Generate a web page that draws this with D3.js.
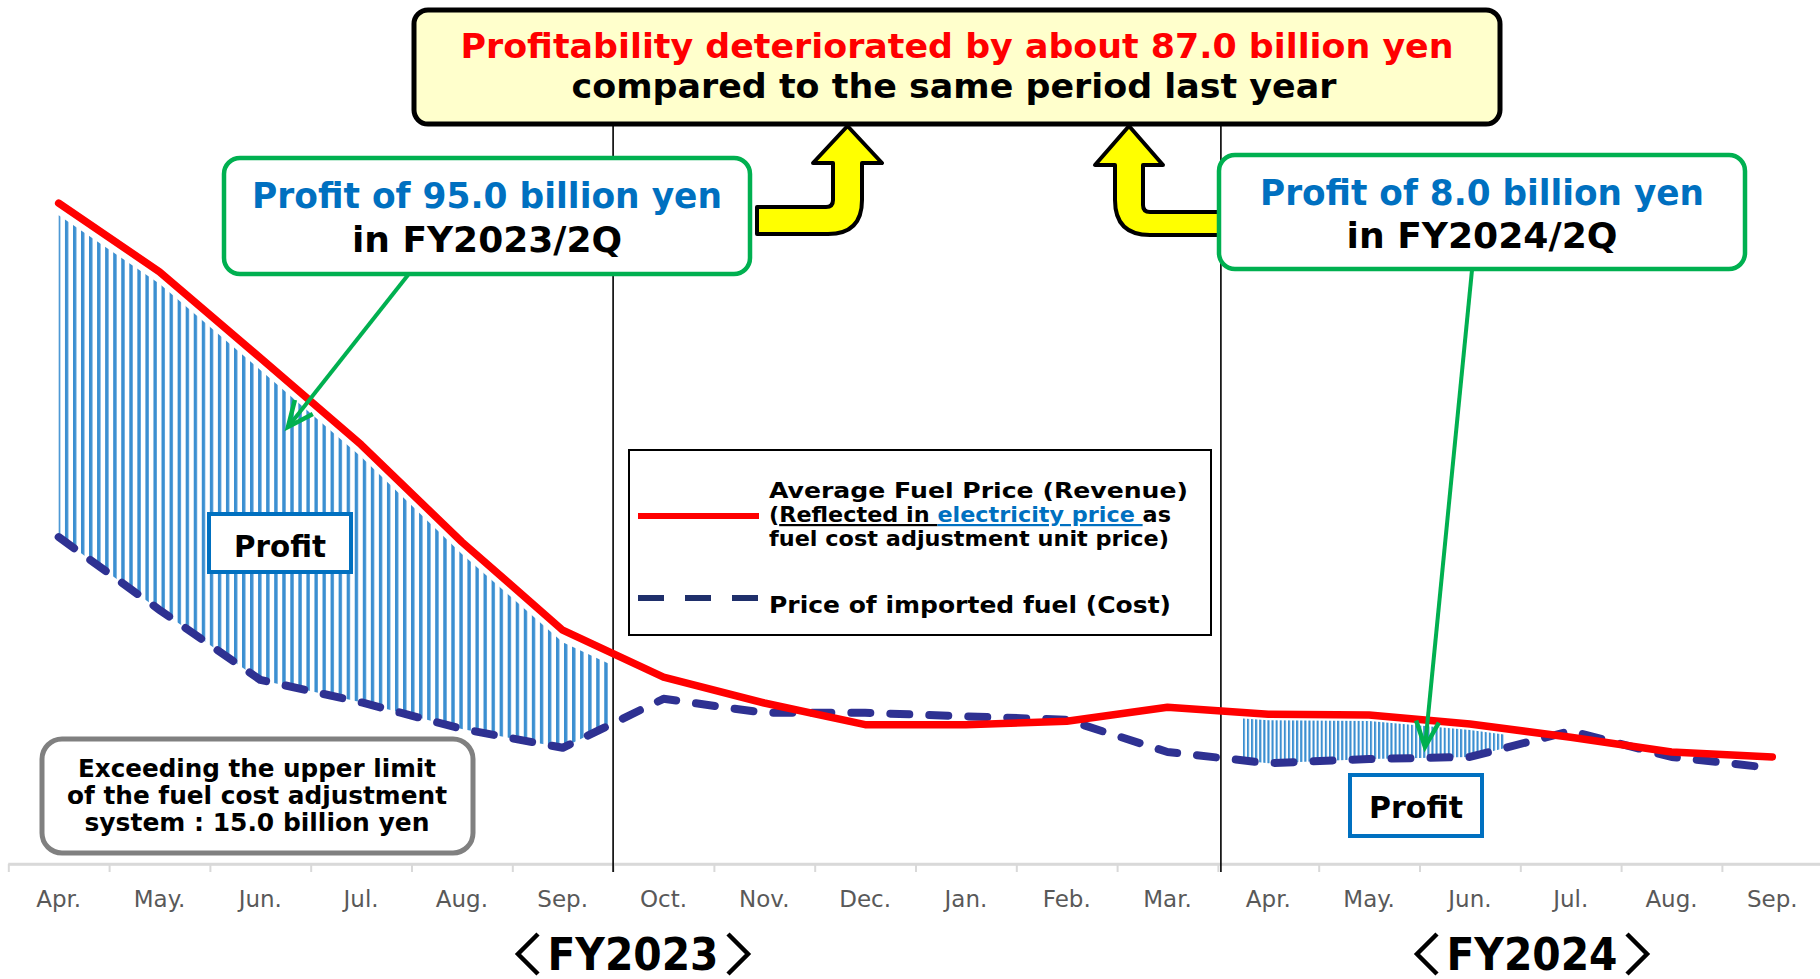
<!DOCTYPE html>
<html>
<head>
<meta charset="utf-8">
<script src="https://cdn.jsdelivr.net/npm/d3@7"></script>
<style>
  body { margin: 0; background: #fff; }
  svg { display: block; font-family: "DejaVu Sans", Verdana, sans-serif; }
</style>
</head>
<body>
<div id="vis"></div>
<script>
// months of FY2023 (Apr-Mar) + first half of FY2024
var months = ["Apr.","May.","Jun.","Jul.","Aug.","Sep.","Oct.","Nov.","Dec.","Jan.","Feb.","Mar.","Apr.","May.","Jun.","Jul.","Aug.","Sep."];
// Average Fuel Price (Revenue) - relative level
var revenue = [94.4, 84.6, 72.3, 59.9, 46.0, 33.4, 26.7, 23.0, 19.9, 19.9, 20.4, 22.4, 21.4, 21.3, 20.0, 18.1, 16.0, 15.3];
// Price of imported fuel (Cost)
var cost = [46.7, 36.3, 26.3, 23.1, 19.3, 16.6, 23.6, 21.6, 21.6, 21.1, 20.6, 16.0, 14.4, 15.0, 15.3, 19.0, 15.3, 13.7];
var fiscalYears = ["FY2023", "FY2024"];
var fyBreaks = [6, 12]; // month index where the dividers are drawn

var width = 1820, height = 979;

var svg = d3.select("#vis").append("svg")
    .attr("width", width)
    .attr("height", height);

// x: month boundaries, points sit in middle of each month
var x = d3.scaleLinear()
    .domain([0, months.length])
    .range([8.3, 8.3 + 100.8 * months.length]);

var y = d3.scaleLinear()
    .domain([0, 100])
    .range([864, 164]);

var defs = svg.append("defs");

// hatch patterns (vertical stripes)
function stripes(id, period, w) {
  var p = defs.append("pattern")
      .attr("id", id)
      .attr("patternUnits", "userSpaceOnUse")
      .attr("width", period)
      .attr("height", 10)
      .attr("x", 0.5);
  p.append("rect")
      .attr("x", 0).attr("y", 0)
      .attr("width", w).attr("height", 10)
      .attr("fill", "#3B8FD1");
}
stripes("hatchA", 8.05, 3.4);
stripes("hatchB", 4.1, 2.1);

defs.append("clipPath").attr("id", "clipA")
  .append("rect").attr("x", 54).attr("y", 0).attr("width", 555).attr("height", height);
defs.append("clipPath").attr("id", "clipB")
  .append("rect").attr("x", 1243).attr("y", 0).attr("width", 261).attr("height", height);

var idx = d3.range(months.length);
function px(i) { return x(i + 0.5); }

function profitArea(off) {
  return d3.area()
      .x(function(i) { return px(i); })
      .y0(function(i) { return y(cost[i]); })
      .y1(function(i) { return y(revenue[i]) + off; });
}

svg.append("path")
    .datum(idx)
    .attr("d", profitArea(12))
    .attr("fill", "url(#hatchA)")
    .attr("clip-path", "url(#clipA)");

svg.append("path")
    .datum(idx)
    .attr("d", profitArea(6))
    .attr("fill", "url(#hatchB)")
    .attr("clip-path", "url(#clipB)");

// axis
var axis = d3.axisBottom(x)
    .tickValues(d3.range(0, months.length))
    .tickSize(8)
    .tickSizeOuter(0)
    .tickFormat("");

var gAxis = svg.append("g")
    .attr("transform", "translate(0,864)")
    .call(axis);
gAxis.select(".domain").attr("stroke", "#D9D9D9").attr("stroke-width", 2.5);
gAxis.selectAll(".tick line").attr("stroke", "#D9D9D9").attr("stroke-width", 2);

svg.append("path")
    .attr("d", "M" + x(0) + ",864H" + width)
    .attr("stroke", "#D9D9D9").attr("stroke-width", 2.5);

svg.selectAll(".month")
    .data(months)
    .enter().append("text")
    .attr("class", "month")
    .attr("x", function(d, i) { return px(i); })
    .attr("y", 907)
    .attr("text-anchor", "middle")
    .style("font-size", "23px")
    .style("fill", "#595959")
    .text(function(d) { return d; });

// fiscal year dividers
svg.selectAll(".divider")
    .data(fyBreaks)
    .enter().append("line")
    .attr("x1", function(d) { return x(d) + (d === 12 ? 3 : 0); })
    .attr("x2", function(d) { return x(d) + (d === 12 ? 3 : 0); })
    .attr("y1", 124)
    .attr("y2", 872)
    .attr("stroke", "#000")
    .attr("stroke-width", 1.6);

// lines
var line = function(arr) {
  return d3.line()
      .x(function(i) { return px(i); })
      .y(function(i) { return y(arr[i]); })(idx);
};

svg.append("path")
    .attr("d", line(cost))
    .attr("fill", "none")
    .attr("stroke", "#2E3192")
    .attr("stroke-width", 8)
    .attr("stroke-linecap", "round")
    .attr("stroke-linejoin", "round")
    .attr("stroke-dasharray", "19,20");

svg.append("path")
    .attr("d", line(revenue))
    .attr("fill", "none")
    .attr("stroke", "#FF0000")
    .attr("stroke-width", 7.5)
    .attr("stroke-linecap", "round")
    .attr("stroke-linejoin", "round");

// helper for fitted text
function label(g, t, cx, by, size, fill, len, anchor, weight) {
  var el = g.append("text")
      .attr("x", cx)
      .attr("y", by)
      .attr("text-anchor", anchor || "middle")
      .style("font-size", size + "px")
      .style("font-weight", weight || "bold")
      .style("fill", fill)
      .text(t);
  if (len) el.attr("textLength", len).attr("lengthAdjust", "spacingAndGlyphs");
  return el;
}

// top headline box
svg.append("rect")
    .attr("x", 414).attr("y", 10)
    .attr("width", 1086).attr("height", 114)
    .attr("rx", 14)
    .attr("fill", "#FFFFCC")
    .attr("stroke", "#000")
    .attr("stroke-width", 5);
label(svg, "Profitability deteriorated by about 87.0 billion yen", 957, 58, 33, "#FF0000", 993);
label(svg, "compared to the same period last year", 954, 98, 33, "#000", 765);

// yellow bent arrows
svg.append("path")
    .attr("d", "M757,207 L826,207 Q833,207 833,200 L833,163 L813,163 L847.5,126 L882,163 L862,163 L862,200 Q862,234 828,234 L757,234 Z")
    .attr("fill", "#FFFF00").attr("stroke", "#000").attr("stroke-width", 4).attr("stroke-linejoin", "round");
svg.append("path")
    .attr("d", "M1222,212 L1150,212 Q1143,212 1143,205 L1143,165 L1163,165 L1129,126 L1095,165 L1115,165 L1115,200 Q1115,235 1150,235 L1222,235 Z")
    .attr("fill", "#FFFF00").attr("stroke", "#000").attr("stroke-width", 4).attr("stroke-linejoin", "round");

// green callouts
function callout(bx, by, bw, bh, l1, l2, cx, b1, b2, w1, w2, from, to) {
  var g = svg.append("g");
  var dx = to[0] - from[0], dy = to[1] - from[1];
  var a = Math.atan2(dy, dx), hl = 28, ha = 0.42;
  g.append("line")
      .attr("x1", from[0]).attr("y1", from[1])
      .attr("x2", to[0]).attr("y2", to[1])
      .attr("stroke", "#00B050").attr("stroke-width", 4);
  g.append("path")
      .attr("d", "M" + (to[0] - hl * Math.cos(a - ha)) + "," + (to[1] - hl * Math.sin(a - ha)) +
                 "L" + to[0] + "," + to[1] +
                 "L" + (to[0] - hl * Math.cos(a + ha)) + "," + (to[1] - hl * Math.sin(a + ha)))
      .attr("fill", "none").attr("stroke", "#00B050").attr("stroke-width", 4.5)
      .attr("stroke-linejoin", "miter");
  g.append("rect")
      .attr("x", bx).attr("y", by).attr("width", bw).attr("height", bh)
      .attr("rx", 16)
      .attr("fill", "#fff").attr("stroke", "#00B050").attr("stroke-width", 4.5);
  label(g, l1, cx, b1, 35, "#0070C0", w1);
  label(g, l2, cx, b2, 35, "#000", w2);
}
callout(224, 158, 526, 116, "Profit of 95.0 billion yen", "in FY2023/2Q", 487, 208, 252, 470, 270, [408, 275], [288, 427]);
callout(1219, 155, 526, 114, "Profit of 8.0 billion yen", "in FY2024/2Q", 1482, 205, 248, 444, 271, [1472, 270], [1425, 747]);

// "Profit" tags
function profitTag(bx, by, bw, bh, cx, b, w) {
  svg.append("rect")
      .attr("x", bx).attr("y", by).attr("width", bw).attr("height", bh)
      .attr("fill", "#fff").attr("stroke", "#0070C0").attr("stroke-width", 4);
  label(svg, "Profit", cx, b, 30, "#000", w);
}
profitTag(209, 514, 142, 58, 280, 557, 92);
profitTag(1350, 775, 132, 61, 1416, 818, 94);

// gray note
svg.append("rect")
    .attr("x", 42).attr("y", 739).attr("width", 431).attr("height", 114)
    .attr("rx", 20)
    .attr("fill", "#fff").attr("stroke", "#808080").attr("stroke-width", 5);
label(svg, "Exceeding the upper limit", 257, 777, 24, "#000", 358);
label(svg, "of the fuel cost adjustment", 257, 804, 24, "#000", 380);
label(svg, "system : 15.0 billion yen", 257, 831, 24, "#000", 345);

// legend
var lg = svg.append("g");
lg.append("rect")
    .attr("x", 629).attr("y", 450).attr("width", 582).attr("height", 185)
    .attr("fill", "#fff").attr("stroke", "#000").attr("stroke-width", 2);
lg.append("line")
    .attr("x1", 638).attr("x2", 759).attr("y1", 516).attr("y2", 516)
    .attr("stroke", "#FF0000").attr("stroke-width", 6);
lg.append("line")
    .attr("x1", 638).attr("x2", 759).attr("y1", 598).attr("y2", 598)
    .attr("stroke", "#1F2F6B").attr("stroke-width", 6)
    .attr("stroke-dasharray", "26,21");
label(lg, "Average Fuel Price (Revenue)", 769, 498, 22, "#000", 419, "start");
var l2 = lg.append("text")
    .attr("x", 769).attr("y", 522)
    .attr("textLength", 402).attr("lengthAdjust", "spacingAndGlyphs")
    .style("font-size", "22px").style("font-weight", "bold");
l2.append("tspan").text("(");
l2.append("tspan").style("text-decoration", "underline").text("Reflected in ");
l2.append("tspan").style("text-decoration", "underline").style("fill", "#0070C0").text("electricity price ");
l2.append("tspan").text("as");
label(lg, "fuel cost adjustment unit price)", 769, 546, 22, "#000", 400, "start");
label(lg, "Price of imported fuel (Cost)", 769, 613, 23, "#000", 402, "start");

// fiscal year labels: thin chevrons around a bold name
function fyLabel(name, left) {
  var g = svg.append("g").attr("class", "fy");
  g.append("path")
      .attr("d", "M" + (left + 24) + ",934 L" + (left + 4) + ",954 L" + (left + 24) + ",974")
      .attr("fill", "none").attr("stroke", "#000").attr("stroke-width", 4.5);
  label(g, name, left + 119, 970, 44, "#000", 171);
  g.append("path")
      .attr("d", "M" + (left + 214) + ",934 L" + (left + 234) + ",954 L" + (left + 214) + ",974")
      .attr("fill", "none").attr("stroke", "#000").attr("stroke-width", 4.5);
}
fyLabel(fiscalYears[0], 514);
fyLabel(fiscalYears[1], 1413);
</script>
</body>
</html>
